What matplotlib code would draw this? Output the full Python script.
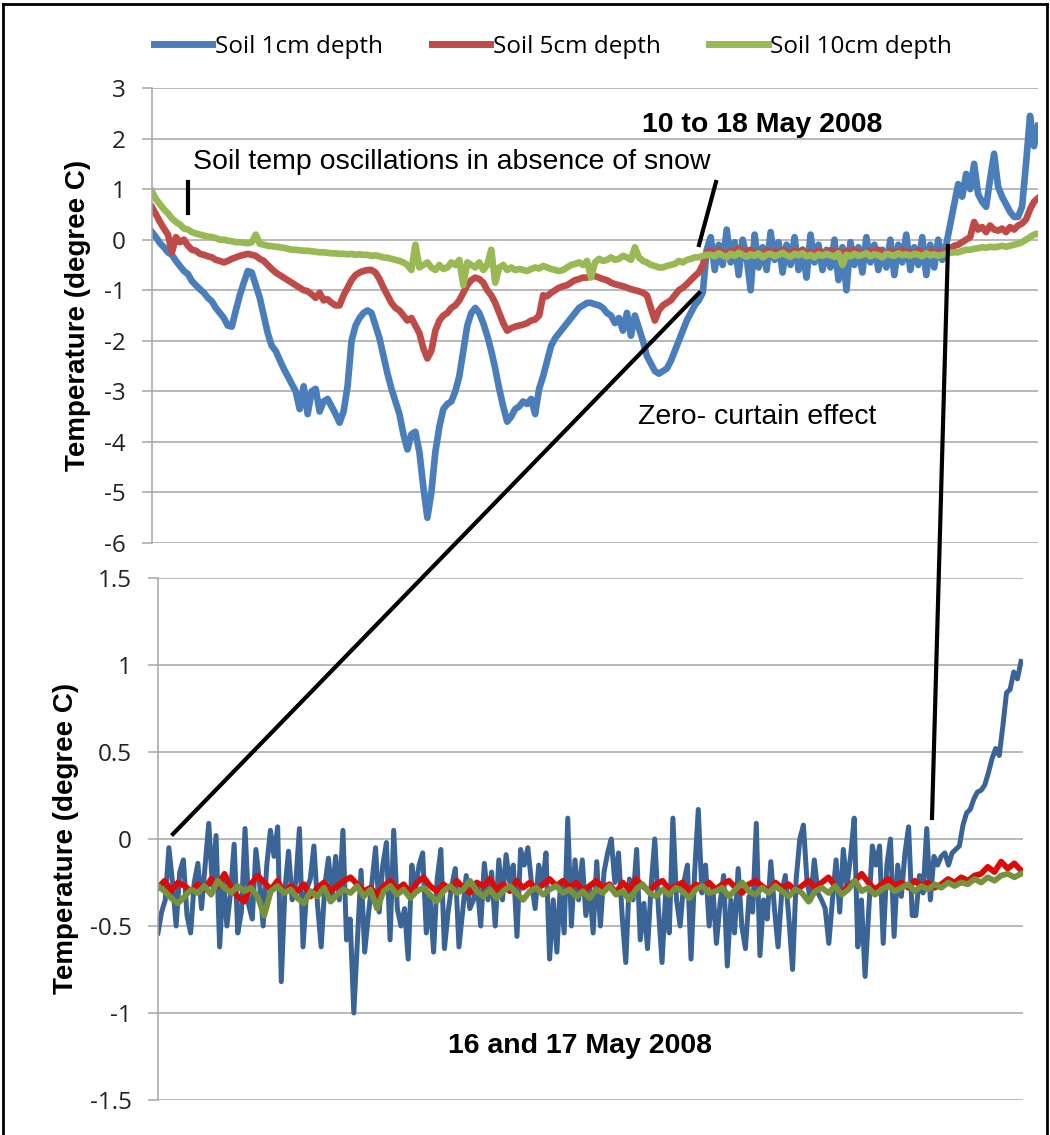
import numpy as np
import matplotlib
matplotlib.use("Agg")
import matplotlib.pyplot as plt
from matplotlib.lines import Line2D

# ---- data ----
series_names = ["Soil 1cm depth", "Soil 5cm depth", "Soil 10cm depth"]

# 10 to 18 May 2008 (upper panel), regular logger samples
top_1cm = [
    0.15, 0.05, -0.07, -0.15, -0.25, -0.3, -0.42, -0.52, -0.62, -0.68,
    -0.82, -0.9, -0.98, -1.05, -1.15, -1.22, -1.35, -1.45, -1.55, -1.7,
    -1.72, -1.4, -1.1, -0.85, -0.62, -0.65, -0.9, -1.15, -1.5, -1.85,
    -2.1, -2.2, -2.38, -2.55, -2.7, -2.85, -3.0, -3.35, -2.9, -3.45,
    -3.0, -2.95, -3.4, -3.2, -3.15, -3.3, -3.45, -3.62, -3.4, -2.9,
    -2.0, -1.7, -1.55, -1.45, -1.4, -1.45, -1.7, -1.95, -2.3, -2.65,
    -2.95, -3.2, -3.45, -3.85, -4.15, -3.85, -3.8, -4.2, -4.9, -5.5,
    -5.0, -4.2, -3.7, -3.35, -3.25, -3.2, -3.0, -2.7, -2.2, -1.7,
    -1.45, -1.35, -1.45, -1.65, -1.9, -2.2, -2.55, -2.95, -3.3, -3.6,
    -3.5, -3.35, -3.3, -3.2, -3.25, -3.15, -3.45, -2.95, -2.7, -2.4,
    -2.1, -1.95, -1.85, -1.75, -1.65, -1.55, -1.45, -1.35, -1.3, -1.25,
    -1.25, -1.28, -1.3, -1.35, -1.45, -1.5, -1.65, -1.55, -1.8, -1.45,
    -1.9, -1.5, -1.75, -2.0, -2.3, -2.45, -2.6, -2.65, -2.6, -2.55,
    -2.4, -2.2, -2.0, -1.8, -1.6, -1.45, -1.3, -1.2, -1.05, -0.2,
    0.05, -0.6, -0.1, -0.5, 0.2, -0.45, -0.05, -0.7, 0.0, -0.35,
    -1.0, 0.1, -0.55, -0.15, -0.6, 0.15, -0.4, -0.05, -0.65, -0.1,
    -0.5, 0.05, -0.6, -0.2, -0.75, 0.1, -0.45, -0.1, -0.6, -0.2,
    -0.55, 0.0, -0.8, -0.15, -1.0, -0.05, -0.5, -0.15, -0.65, 0.05,
    -0.45, -0.1, -0.6, -0.2, -0.55, 0.0, -0.7, -0.1, -0.45, 0.1,
    -0.6, -0.15, -0.5, 0.05, -0.7, -0.1, -0.55, 0.0, -0.4, -0.1,
    0.3, 0.7, 1.1, 0.85, 1.3, 1.0, 1.5, 0.9, 0.75, 0.65,
    1.2, 1.7, 1.05, 0.85, 0.7, 0.55, 0.45, 0.45, 0.65, 1.5,
    2.45, 1.85, 2.25,
]
top_5cm = [
    0.64, 0.5, 0.35, 0.22, 0.1, -0.25, 0.05, -0.05, 0.0, -0.12,
    -0.2, -0.22, -0.28, -0.3, -0.33, -0.35, -0.4, -0.42, -0.45, -0.42,
    -0.38, -0.35, -0.32, -0.3, -0.28, -0.3, -0.32, -0.38, -0.42, -0.5,
    -0.58, -0.65, -0.7, -0.75, -0.8, -0.85, -0.9, -0.95, -1.0, -1.02,
    -1.08, -1.15, -1.05, -1.2, -1.18, -1.25, -1.3, -1.3, -1.1, -0.95,
    -0.8, -0.7, -0.65, -0.62, -0.6, -0.6, -0.65, -0.78, -0.95, -1.1,
    -1.25, -1.35, -1.4, -1.5, -1.6, -1.55, -1.7, -1.85, -2.15, -2.35,
    -2.2, -1.8, -1.6, -1.5, -1.45, -1.35, -1.3, -1.2, -1.05, -0.9,
    -0.8, -0.75, -0.78, -0.85, -1.0, -1.1, -1.25, -1.45, -1.65, -1.8,
    -1.75, -1.72, -1.7, -1.68, -1.65, -1.6, -1.58, -1.5, -1.1, -1.12,
    -1.05, -1.0, -0.95, -0.92, -0.9, -0.85, -0.8, -0.78, -0.75, -0.75,
    -0.72, -0.72, -0.75, -0.78, -0.8, -0.85, -0.88, -0.9, -0.92, -0.95,
    -0.98, -1.0, -1.02, -1.05, -1.1, -1.35, -1.6, -1.4, -1.3, -1.25,
    -1.2, -1.1, -1.0, -0.95, -0.88, -0.8, -0.72, -0.65, -0.5, -0.25,
    -0.22, -0.28, -0.2, -0.26, -0.3, -0.22, -0.25, -0.18, -0.27, -0.23,
    -0.2, -0.27, -0.24, -0.3, -0.21, -0.26, -0.23, -0.29, -0.2, -0.25,
    -0.28, -0.22, -0.26, -0.2, -0.27, -0.24, -0.3, -0.22, -0.25, -0.28,
    -0.21, -0.26, -0.23, -0.29, -0.22, -0.25, -0.2, -0.27, -0.24, -0.3,
    -0.22, -0.26, -0.2, -0.25, -0.28, -0.22, -0.27, -0.23, -0.2, -0.26,
    -0.24, -0.28, -0.21, -0.25, -0.27, -0.22, -0.26, -0.24, -0.25, -0.22,
    -0.18, -0.12, -0.1, -0.05, 0.0, 0.05, 0.35, 0.2, 0.25, 0.15,
    0.28, 0.2, 0.18, 0.22, 0.15, 0.25, 0.2, 0.28, 0.32, 0.4,
    0.6, 0.75, 0.82,
]
top_10cm = [
    0.95, 0.8, 0.7, 0.6, 0.52, 0.42, 0.35, 0.3, 0.22, 0.2,
    0.15, 0.12, 0.1, 0.08, 0.06, 0.05, 0.03, 0.0, 0.0, -0.02,
    -0.03, -0.05, -0.05, -0.06, -0.07, -0.05, 0.1, -0.08, -0.1, -0.12,
    -0.13, -0.14, -0.15, -0.16, -0.18, -0.2, -0.2, -0.21, -0.22, -0.22,
    -0.23, -0.24, -0.25, -0.25, -0.26, -0.27, -0.27, -0.28, -0.28, -0.29,
    -0.28, -0.3, -0.29, -0.3, -0.3, -0.32, -0.31, -0.33, -0.35, -0.36,
    -0.38, -0.4, -0.42, -0.45, -0.5, -0.6, -0.1, -0.55, -0.5, -0.45,
    -0.55, -0.6, -0.5, -0.58, -0.55, -0.45, -0.5, -0.4, -0.9, -0.45,
    -0.5, -0.55, -0.45, -0.6, -0.5, -0.2, -0.85, -0.55, -0.5, -0.6,
    -0.55, -0.6, -0.58, -0.6, -0.62, -0.58, -0.55, -0.57, -0.52, -0.55,
    -0.58, -0.6, -0.62, -0.6, -0.55, -0.5, -0.48, -0.45, -0.5, -0.42,
    -0.75, -0.45, -0.38, -0.42, -0.4, -0.35, -0.4, -0.38, -0.32, -0.35,
    -0.4, -0.15, -0.35, -0.42, -0.45, -0.5, -0.52, -0.55, -0.55, -0.52,
    -0.5, -0.48, -0.42, -0.45, -0.4, -0.38, -0.35, -0.35, -0.32, -0.3,
    -0.3, -0.33, -0.27, -0.31, -0.35, -0.28, -0.32, -0.26, -0.3, -0.34,
    -0.29, -0.32, -0.27, -0.35, -0.3, -0.28, -0.33, -0.3, -0.26, -0.31,
    -0.34, -0.28, -0.31, -0.27, -0.33, -0.3, -0.35, -0.29, -0.32, -0.28,
    -0.31, -0.34, -0.27, -0.5, -0.3, -0.33, -0.28, -0.32, -0.3, -0.27,
    -0.33, -0.29, -0.31, -0.35, -0.28, -0.3, -0.32, -0.27, -0.31, -0.29,
    -0.32, -0.28, -0.3, -0.33, -0.27, -0.31, -0.29, -0.32, -0.3, -0.28,
    -0.26, -0.25, -0.25, -0.22, -0.2, -0.2, -0.18, -0.17, -0.15, -0.16,
    -0.14, -0.15, -0.14, -0.12, -0.14, -0.12, -0.1, -0.08, -0.05, 0.0,
    0.05, 0.1, 0.12,
]

# 16 and 17 May 2008 (lower panel)
bot_1cm = [
    -0.54, -0.42, -0.35, -0.05, -0.25, -0.5, -0.19, -0.12, -0.44, -0.54,
    -0.25, -0.14, -0.4, -0.15, 0.09, -0.27, 0.02, -0.62, -0.23, -0.5,
    -0.31, -0.03, -0.54, -0.42, 0.06, -0.38, -0.46, -0.06, -0.25, -0.5,
    -0.15, 0.05, -0.1, 0.07, -0.82, -0.29, -0.07, -0.35, -0.25, 0.06,
    -0.62, -0.29, -0.23, -0.04, -0.38, -0.62, -0.27, -0.11, -0.33, -0.1,
    -0.35, 0.05, -0.58, -0.46, -1.0, -0.58, -0.18, -0.65, -0.44, -0.25,
    -0.05, -0.42, -0.15, -0.02, -0.58, 0.05, -0.4, -0.5, -0.4, -0.69,
    -0.15, -0.29, -0.15, -0.08, -0.54, -0.33, -0.65, -0.23, -0.06, -0.63,
    -0.42, -0.27, -0.17, -0.62, -0.42, -0.21, -0.4, -0.35, -0.25, -0.5,
    -0.14, -0.35, -0.19, -0.5, -0.12, -0.35, -0.09, -0.25, -0.15, -0.56,
    -0.06, -0.15, -0.05, -0.25, -0.4, -0.15, -0.27, -0.08, -0.69, -0.35,
    -0.65, -0.25, -0.54, 0.12, -0.5,
    -0.12, -0.35, -0.12, -0.44, -0.27, -0.54, -0.13, -0.5, -0.19, -0.08,
    0.0, -0.25, -0.08, -0.44, -0.71, -0.23, -0.35, -0.06, -0.58, -0.37,
    -0.63, -0.27, 0.0, -0.4, -0.71, -0.31, -0.54, 0.12, -0.35, -0.5,
    -0.25, -0.15, -0.69, -0.19, 0.17, -0.31, -0.15, -0.5, -0.27, -0.6,
    -0.37, -0.21, -0.73, -0.35, -0.54, -0.17, -0.5, -0.63, -0.33, -0.42,
    0.09, -0.67, -0.35, -0.46, -0.13, -0.4, -0.62, -0.31, -0.21, -0.46,
    -0.75, -0.23, 0.0, 0.08, -0.25, -0.35, -0.12, -0.31, -0.35, -0.4,
    -0.6, -0.35, -0.12, -0.42, -0.06, -0.27, -0.1, 0.12, -0.62, -0.35,
    -0.79, -0.42, -0.04, -0.15, -0.04, -0.6, -0.15, 0.0, -0.56, -0.15,
    -0.33, -0.08, 0.07, -0.44, -0.44, -0.21, -0.31, 0.06, -0.35, -0.1,
    -0.15, -0.1, -0.08, -0.15, -0.08, -0.06, -0.04, 0.08, 0.15,
    0.17, 0.23, 0.27, 0.28, 0.31, 0.38, 0.46, 0.52, 0.48, 0.65,
    0.84, 0.86, 0.96, 0.92, 1.02,
]
bot_5cm = [
    -0.28, -0.24, -0.3, -0.25, -0.27, -0.3, -0.26, -0.29, -0.23, -0.27,
    -0.2, -0.28, -0.33, -0.36, -0.26, -0.21, -0.25, -0.29, -0.24, -0.31,
    -0.27, -0.3, -0.26, -0.33, -0.28, -0.25, -0.3, -0.27, -0.24, -0.22,
    -0.26, -0.3, -0.28, -0.32, -0.27, -0.24, -0.29, -0.26, -0.31, -0.25,
    -0.22, -0.27, -0.3, -0.26, -0.29, -0.24, -0.28, -0.31, -0.25, -0.27,
    -0.23, -0.29, -0.26, -0.3, -0.24, -0.28, -0.25, -0.29, -0.26, -0.23,
    -0.27, -0.24, -0.28, -0.25, -0.3, -0.27, -0.24, -0.28, -0.26, -0.31,
    -0.25, -0.29, -0.23, -0.27, -0.3, -0.26, -0.24, -0.29, -0.27, -0.25,
    -0.3, -0.26, -0.28, -0.25, -0.29, -0.26, -0.24, -0.28, -0.31, -0.26,
    -0.24, -0.27, -0.3, -0.25, -0.28, -0.26, -0.3, -0.27, -0.24, -0.28,
    -0.25, -0.22, -0.27, -0.31, -0.27, -0.24, -0.2, -0.25, -0.29, -0.26,
    -0.23, -0.27, -0.25, -0.28, -0.24, -0.27, -0.25, -0.28, -0.26, -0.23,
    -0.25, -0.22, -0.24, -0.21, -0.2, -0.16, -0.19, -0.13, -0.17, -0.14,
    -0.18,
]
bot_10cm = [
    -0.27, -0.3, -0.34, -0.37, -0.33, -0.29, -0.31, -0.27, -0.32, -0.24,
    -0.28, -0.31, -0.27, -0.3, -0.28, -0.33, -0.44, -0.3, -0.27, -0.31,
    -0.29, -0.34, -0.37, -0.3, -0.33, -0.28, -0.36, -0.32, -0.29, -0.31,
    -0.27, -0.33, -0.29, -0.4, -0.3, -0.27, -0.32, -0.29, -0.34, -0.3,
    -0.28, -0.32, -0.36, -0.3, -0.27, -0.31, -0.29, -0.24, -0.3, -0.33,
    -0.29, -0.34, -0.3, -0.27, -0.31, -0.35, -0.3, -0.28, -0.32, -0.29,
    -0.27, -0.31, -0.29, -0.33, -0.3, -0.34, -0.29, -0.31, -0.27, -0.32,
    -0.3, -0.35, -0.29, -0.26, -0.31, -0.33, -0.29, -0.32, -0.28, -0.3,
    -0.34, -0.29, -0.27, -0.31, -0.3, -0.28, -0.33, -0.29, -0.25, -0.3,
    -0.32, -0.28, -0.31, -0.27, -0.3, -0.33, -0.29, -0.31, -0.36, -0.3,
    -0.28, -0.31, -0.27, -0.32, -0.29, -0.24, -0.3, -0.28, -0.32, -0.29,
    -0.27, -0.3, -0.28, -0.26, -0.3, -0.27, -0.29, -0.26, -0.28, -0.25,
    -0.27, -0.25, -0.26, -0.23, -0.25, -0.22, -0.24, -0.21, -0.2, -0.22,
    -0.2,
]

top_ticks = [3, 2, 1, 0, -1, -2, -3, -4, -5, -6]
top_tick_labels = ["3", "2", "1", "0", "-1", "-2", "-3", "-4", "-5", "-6"]
bot_ticks = [1.5, 1.0, 0.5, 0.0, -0.5, -1.0, -1.5]
bot_tick_labels = ["1.5", "1", "0.5", "0", "-0.5", "-1", "-1.5"]

top_title = "10 to 18 May 2008"
bot_title = "16 and 17 May 2008"
note_osc = "Soil temp oscillations in absence of snow"
note_zero = "Zero- curtain effect"
ylabel = "Temperature (degree C)"

# ---- styling ----
W, H = 1050, 1135
top_colors = ["#4A7EBB", "#BE4B48", "#98B954"]
bot_colors = ["#3A6495", "#DD0A0A", "#76923C"]
grid_col = "#A6A6A6"
tick_font = ["Open Sans", "DejaVu Sans"]
text_font = ["Liberation Sans", "DejaVu Sans"]

plt.rcParams["axes.unicode_minus"] = False


def fx(x):
    return x / W


def fy(y):
    return 1 - y / H


def style_axis(ax, ticks, labels):
    for s in ["top", "right", "bottom"]:
        ax.spines[s].set_visible(False)
    ax.spines["left"].set_color(grid_col)
    ax.spines["left"].set_linewidth(1.1)
    ax.set_xticks([])
    ax.set_yticks(ticks)
    ax.set_yticklabels(labels, fontfamily=tick_font, fontsize=17.5, color="#222222")
    ax.tick_params(axis="y", direction="out", length=7, width=1.1,
                   color=grid_col, pad=12)
    ax.yaxis.grid(True, color=grid_col, linewidth=1.1)
    ax.set_axisbelow(True)


fig = plt.figure(figsize=(W / 100, H / 100), dpi=100)

ax1 = fig.add_axes([fx(152), fy(543), (1038 - 152) / W, (543 - 88) / H])
x_top = np.arange(len(top_1cm))
for vals, c in zip([top_1cm, top_5cm, top_10cm], top_colors):
    ax1.plot(x_top, vals, color=c, linewidth=4.8, solid_joinstyle="round")
ax1.set_xlim(0, len(top_1cm) - 1)
ax1.set_ylim(-6, 3)
style_axis(ax1, top_ticks, top_tick_labels)

ax2 = fig.add_axes([fx(158), fy(1100), (1023 - 158) / W, (1100 - 578) / H])
x_bot = np.arange(len(bot_1cm))
x_bot_slow = np.linspace(0, len(bot_1cm) - 1, len(bot_5cm))
ax2.plot(x_bot, bot_1cm, color=bot_colors[0], linewidth=3.6, solid_joinstyle="round")
ax2.plot(x_bot_slow, bot_5cm, color=bot_colors[1], linewidth=4.2, solid_joinstyle="round")
ax2.plot(x_bot_slow, bot_10cm, color=bot_colors[2], linewidth=4.2, solid_joinstyle="round")
ax2.set_xlim(0, (len(bot_1cm) - 1) * 865 / 863)
ax2.set_ylim(-1.5, 1.5)
style_axis(ax2, bot_ticks, bot_tick_labels)

# legend
handles = [Line2D([], [], color=c, linewidth=5) for c in top_colors]
fig.legend(handles, series_names, loc="center", bbox_to_anchor=(fx(553), fy(47)),
           ncol=3, frameon=False, handlelength=2.4, handletextpad=0.12,
           columnspacing=2.0, prop={"family": tick_font, "size": 17.5})

# axis titles
fig.text(fx(78), fy(315), ylabel, rotation=90, ha="center", va="center",
         fontsize=20, fontweight="bold", family=text_font)
fig.text(fx(66), fy(838), ylabel, rotation=90, ha="center", va="center",
         fontsize=20, fontweight="bold", family=text_font)

# annotations
fig.text(fx(193), fy(169), note_osc, ha="left", va="baseline", fontsize=20.5, family=text_font)
fig.text(fx(762), fy(132), top_title, ha="center", va="baseline", fontsize=20.5,
         fontweight="bold", family=text_font)
fig.text(fx(638), fy(424), note_zero, ha="left", va="baseline", fontsize=20.5, family=text_font)
fig.text(fx(448), fy(1053), bot_title, ha="left", va="baseline", fontsize=20.5,
         fontweight="bold", family=text_font)

# pointer lines drawn on the figure
pointers = [((188, 182), (188, 213)),
            ((716, 182), (699, 245)),
            ((173, 834), (699, 293)),
            ((948, 246), (932, 818))]
for (xa, ya), (xb, yb) in pointers:
    fig.add_artist(Line2D([fx(xa), fx(xb)], [fy(ya), fy(yb)], color="black",
                          linewidth=3, transform=fig.transFigure))

# outer frame
for (xa, ya), (xb, yb) in [((3, 1135), (3, 4)), ((3, 4), (1047, 4)), ((1047, 4), (1047, 1135))]:
    fig.add_artist(Line2D([fx(xa), fx(xb)], [fy(ya), fy(yb)], color="black",
                          linewidth=2, transform=fig.transFigure))

fig.savefig("out.png", dpi=100)
